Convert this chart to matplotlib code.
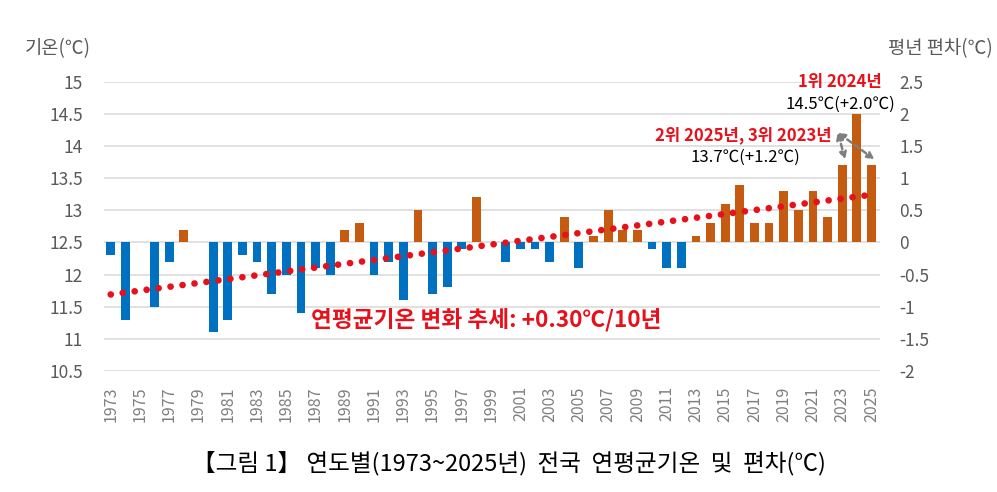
import numpy as np
import matplotlib
matplotlib.use('Agg')
import matplotlib.pyplot as plt

plt.rcParams["font.family"] = ["Noto Sans CJK KR", "DejaVu Sans"]

# data
years = list(range(1973, 2026))
temps = [12.3, 11.3, 12.5, 11.5, 12.2, 12.7, 12.5, 11.1, 11.3, 12.3,
         12.2, 11.7, 12.0, 11.4, 12.1, 12.0, 12.7, 12.8, 12.0, 12.2,
         11.6, 13.0, 11.7, 11.8, 12.4, 13.2, 12.5, 12.2, 12.4, 12.4,
         12.2, 12.9, 12.1, 12.6, 13.0, 12.7, 12.7, 12.4, 12.1, 12.1,
         12.6, 12.8, 13.1, 13.4, 12.8, 12.8, 13.3, 13.0, 13.3, 12.9,
         13.7, 14.5, 13.7]
normal = 12.5
left_ticks = [10.5, 11, 11.5, 12, 12.5, 13, 13.5, 14, 14.5, 15]
right_ticks = [-2, -1.5, -1, -0.5, 0, 0.5, 1, 1.5, 2, 2.5]

years = np.array(years)
temps = np.array(temps)
anom = temps - normal
colors = np.where(anom < 0, "#0070C0", "#C55A11")

fig = plt.figure(figsize=(9.97, 4.92), dpi=100)
ax = fig.add_axes([0.1043, 0.2459, 0.7783, 0.5881])
ax2 = ax.twinx()

ax.bar(years, anom, bottom=normal, width=0.6, color=colors, zorder=2)

# linear trend like the excel trendline
k, b = np.polyfit(years, temps, 1)
ax.plot(years, k * years + b, color="#E8101A", lw=4.8, dashes=(0.01, 1.8),
        dash_capstyle="round", zorder=3)

ax.set_xlim(1972.54, 2025.58)
ax.set_ylim(10.5, 15)
ax2.set_ylim(-2, 2.5)
ax.set_yticks(left_ticks)
ax.set_yticklabels([f"{t:g}" for t in left_ticks])
ax2.set_yticks(right_ticks)
ax2.set_yticklabels([f"{t:g}" for t in right_ticks])
ax.set_xticks(years[::2])
ax.set_xticklabels([str(y) for y in years[::2]], rotation=90)

ax.grid(axis="y", color="#D9D9D9", lw=1.1, zorder=0)
ax.set_axisbelow(True)
for a in (ax, ax2):
    for s in a.spines.values():
        s.set_visible(False)
    a.tick_params(length=0, colors="#595959", labelsize=12.5)
ax.tick_params(axis="y", pad=15)
ax2.tick_params(axis="y", pad=14)
ax.tick_params(axis="x", pad=11, labelsize=11.5, colors="#7F7F7F")

ax.text(-0.102, 1.115, "기온(℃)", transform=ax.transAxes, fontsize=13.5, color="#595959",
        ha="left", va="center")
ax.text(1.01, 1.115, "평년 편차(℃)", transform=ax.transAxes, fontsize=13.5, color="#595959",
        ha="left", va="center")

red = "#E8101A"
ax.text(1998.7, 11.30, "연평균기온 변화 추세: +0.30℃/10년", fontsize=16.3, color=red,
        fontweight="bold", ha="center", va="center")
ax.text(2022.85, 14.99, "1위 2024년", fontsize=12, color=red, fontweight="bold",
        ha="center", va="center")
ax.text(2022.85, 14.64, "14.5℃(+2.0℃)", fontsize=12, color="black",
        ha="center", va="center")
ax.text(2022.3, 14.16, "2위 2025년, 3위 2023년", fontsize=12, color=red, fontweight="bold",
        ha="right", va="center")
ax.text(2016.4, 13.82, "13.7℃(+1.2℃)", fontsize=12, color="black",
        ha="center", va="center")

arrow = dict(arrowstyle="<|-|>", color="#7F7F7F", lw=1.8, linestyle=(0, (2.2, 1.4)),
             mutation_scale=10, shrinkA=0, shrinkB=0)
ax.annotate("", xy=(2023.2, 13.79), xytext=(2022.7, 14.21), arrowprops=arrow)
ax.annotate("", xy=(2025.2, 13.79), xytext=(2022.7, 14.21), arrowprops=arrow)

fig.text(0.51, 0.059, "【그림 1】 연도별(1973~2025년)  전국  연평균기온  및  편차(℃)",
         fontsize=17, color="black", ha="center", va="center")

plt.savefig("out.png", dpi=100)
plt.close()
